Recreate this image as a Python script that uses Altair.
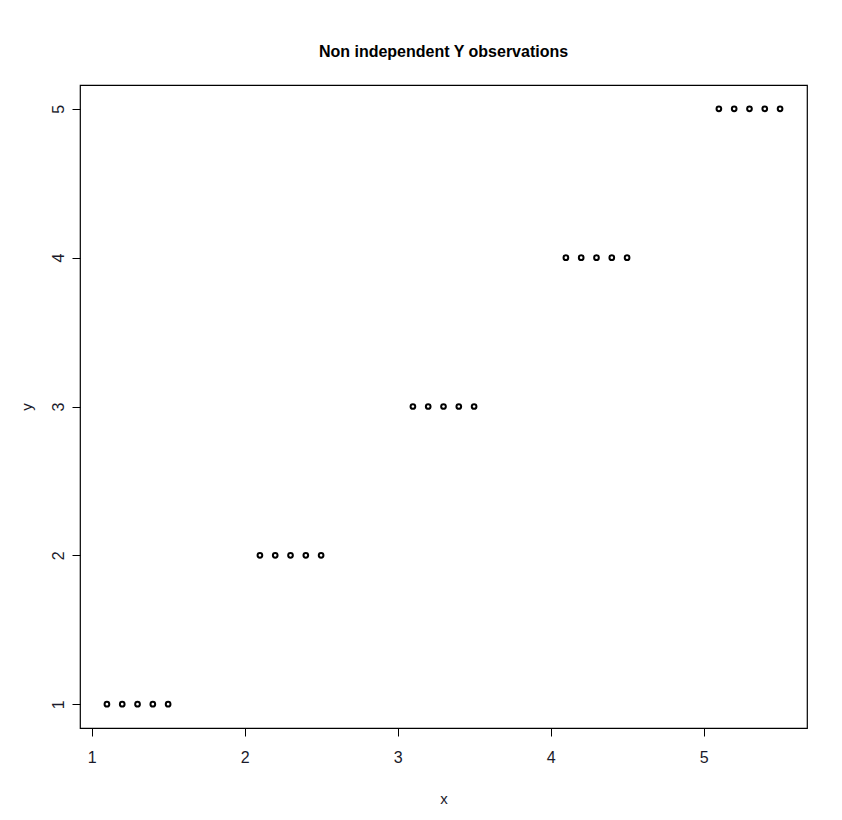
import altair as alt
import pandas as pd

# Data
x_vals = [1.1, 1.2, 1.3, 1.4, 1.5,
          2.1, 2.2, 2.3, 2.4, 2.5,
          3.1, 3.2, 3.3, 3.4, 3.5,
          4.1, 4.2, 4.3, 4.4, 4.5,
          5.1, 5.2, 5.3, 5.4, 5.5]
y_vals = [1, 1, 1, 1, 1,
          2, 2, 2, 2, 2,
          3, 3, 3, 3, 3,
          4, 4, 4, 4, 4,
          5, 5, 5, 5, 5]
x_ticks = [1, 2, 3, 4, 5]
y_ticks = [1, 2, 3, 4, 5]

df = pd.DataFrame({"x": x_vals, "y": y_vals})

FONT = "Liberation Sans"
TXT = "#1a1a2a"

points = alt.Chart(df).mark_point(
    shape="circle", filled=False, color="black", size=22, strokeWidth=2, opacity=1
).encode(
    x=alt.X("x:Q",
            scale=alt.Scale(domain=[0.924, 5.676], nice=False, zero=False),
            axis=alt.Axis(values=x_ticks, title="x", format="d", grid=False,
                          domain=False, tickSize=8, tickColor="black",
                          labelPadding=13, labelFontSize=16, labelColor=TXT,
                          titleFontSize=15, titleFontWeight="normal",
                          titlePadding=26, labelFont=FONT, titleFont=FONT,
                          titleColor=TXT, zindex=1)),
    y=alt.Y("y:Q",
            scale=alt.Scale(domain=[0.84, 5.16], nice=False, zero=False),
            axis=alt.Axis(values=y_ticks, title="y", format="d", grid=False,
                          domain=False, tickSize=8, tickColor="black",
                          labelAngle=270, labelAlign="center",
                          labelBaseline="alphabetic", labelPadding=9,
                          labelFontSize=16, labelColor=TXT,
                          titleFontSize=15, titleFontWeight="normal",
                          titlePadding=16, labelFont=FONT, titleFont=FONT,
                          titleColor=TXT, zindex=1)),
)

chart = points.properties(
    width=727,
    height=643,
    background="white",
    title=alt.TitleParams(
        "Non independent Y observations",
        font=FONT, fontSize=16, fontWeight="bold", color="black",
        anchor="middle", baseline="alphabetic", offset=12,
    ),
    autosize=alt.AutoSizeParams(type="none"),
    padding={"left": 72, "top": 77, "right": 25, "bottom": 80},
).configure_view(
    stroke="black", strokeWidth=1.2, fill="white"
)

chart.save("out.html", embed_options={"renderer": "svg", "actions": False})
